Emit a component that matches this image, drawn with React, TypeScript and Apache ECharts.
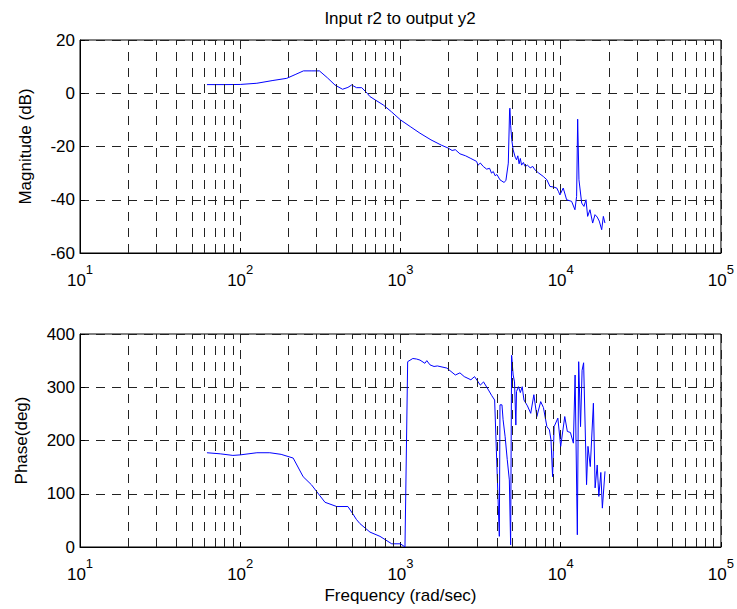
import React, { useEffect, useRef } from "react";
import * as echarts from "echarts";

// Magnitude response (rad/sec, dB)
const magFreq = [62, 80, 100, 127, 160, 195, 220, 248, 280, 312, 350, 390, 435, 470, 496, 532, 573, 620, 645, 700, 781, 880, 1000, 1150, 1324, 1550, 1800, 1987, 2100, 2200, 2350, 2550, 2750, 2986, 3050, 3150, 3287, 3450, 3600, 3700, 3795, 3900, 4000, 4178, 4300, 4428, 4550, 4710, 4800, 4823, 4870, 4950, 5050, 5200, 5300, 5400, 5500, 5600, 5700, 5850, 6000, 6200, 6450, 6700, 6902, 7300, 7786, 8200, 8570, 9000, 9450, 9700, 9890, 10370, 10890, 11700, 12270, 12570, 12760, 13000, 13520, 13970, 14380, 14730, 15230, 15830, 16370, 16900, 17400, 18020, 18460, 18890];
const magDb = [3.25, 3.25, 3.3, 3.75, 4.8, 5.6, 7.0, 8.4, 8.4, 8.4, 5.8, 3.1, 1.5, 2.2, 3.1, 2.1, 2.1, 0.0, -1.25, -2.6, -4.4, -7.0, -10, -12.5, -15, -17.5, -19.5, -20.6, -21.5, -21.2, -22.75, -23.5, -24.5, -25.6, -27, -26.2, -27.5, -28.5, -28.2, -30, -29.4, -31, -30.5, -32.5, -33, -33.5, -32.8, -26.25, -6, -5.6, -12, -17.5, -21.25, -24, -25, -23.5, -26.5, -24.5, -27, -26, -27.5, -27, -28, -27.5, -28.75, -30, -31.25, -32.5, -35, -35.2, -35.6, -37, -38.2, -35.6, -40, -40.6, -43.75, -38.75, -9.75, -32.5, -41.25, -42.5, -40, -46.25, -43.75, -48.75, -45.6, -46.5, -48, -51.25, -46.25, -48.75];

// Phase response (rad/sec, deg)
const phaseFreq = [62, 75, 90, 100, 127, 153, 180, 214, 247, 278, 338, 400, 470, 505, 530, 558, 645, 745, 882, 1000, 1067, 1109, 1194, 1260, 1324, 1420, 1460, 1529, 1620, 1700, 1948, 2200, 2350, 2500, 2750, 2900, 3150, 3300, 3540, 3700, 3870, 4140, 4180, 4300, 4370, 4500, 4640, 4780, 4870, 4940, 5050, 5150, 5250, 5300, 5450, 5600, 5750, 5900, 6200, 6500, 6800, 7100, 7500, 7800, 8200, 8500, 8700, 8900, 9100, 9600, 10000, 10600, 11000, 11500, 12000, 12300, 12700, 12950, 13300, 13600, 13900, 14500, 14800, 15300, 16000, 16400, 16900, 17300, 17800, 18200, 18900];
const phaseDeg = [177, 175, 172, 173, 177, 177, 174, 167, 132, 117, 84, 76, 76, 62, 52, 44, 28, 20, 6, 6, 0, 348, 354, 353, 351, 345, 350, 342, 339, 340, 336, 323, 327, 320, 314, 320, 304, 310, 295, 285, 276, 20, 267, 267, 239, 207, 164, 126, 4, 360, 323, 310, 229, 292, 301, 290, 301, 276, 265, 251, 286, 245, 273, 262, 226, 220, 201, 132, 226, 242, 189, 245, 217, 215, 195, 323, 23, 348, 226, 332, 346, 117, 189, 151, 270, 111, 154, 95, 140, 73, 142];

const title = "Input r2 to output y2";
const magLabel = "Magnitude (dB)";
const phaseLabel = "Phase(deg)";
const freqLabel = "Frequency (rad/sec)";

const FONT = "'Liberation Sans', Arial, sans-serif";
const DASH = [9, 7];

const minorGrid: number[] = [];
[10, 100, 1000, 10000].forEach((d) => {
  for (let k = 2; k <= 9; k++) minorGrid.push(d * k);
});

export default function App() {
  const ref = useRef<HTMLDivElement>(null);
  useEffect(() => {
    if (!ref.current) return;
    const chart = echarts.init(ref.current, undefined, { renderer: "svg" });
    const xAxisBase = (gi: number, withName: boolean) => ({
      type: "log" as const,
      gridIndex: gi,
      logBase: 10,
      min: 10,
      max: 100000,
      axisLine: { show: true, onZero: false, lineStyle: { color: "#000", width: 1 } },
      axisTick: { show: true, inside: true, length: 5, lineStyle: { color: "#000" } },
      splitLine: { show: true, lineStyle: { color: "#222", width: 1, type: DASH } },
      axisLabel: {
        margin: 10,
        color: "#000",
        formatter: (v: number) => `{b|10}{s|${Math.round(Math.log10(v))}}`,
        rich: {
          b: { fontSize: 17, fontFamily: FONT, color: "#000", verticalAlign: "bottom", lineHeight: 26 },
          s: { fontSize: 13, fontFamily: FONT, color: "#000", verticalAlign: "top", lineHeight: 14 },
        },
      },
      name: withName ? freqLabel : "",
      nameLocation: "middle" as const,
      nameGap: 40,
      nameTextStyle: { fontSize: 17, fontFamily: FONT, color: "#000" },
    });
    const yAxisBase = (gi: number, min: number, max: number, interval: number, name: string, gap: number) => ({
      type: "value" as const,
      gridIndex: gi,
      min,
      max,
      interval,
      axisLine: { show: true, onZero: false, lineStyle: { color: "#000", width: 1 } },
      axisTick: { show: true, inside: true, length: 5, lineStyle: { color: "#000" } },
      splitLine: { show: true, lineStyle: { color: "#222", width: 1, type: DASH } },
      axisLabel: { fontSize: 17, fontFamily: FONT, color: "#000", margin: 5 },
      name,
      nameLocation: "middle" as const,
      nameGap: gap,
      nameTextStyle: { fontSize: 17, fontFamily: FONT, color: "#000" },
    });
    const markLine = {
      silent: true,
      symbol: "none",
      label: { show: false },
      lineStyle: { color: "#222", width: 1, type: DASH },
      data: minorGrid.map((v) => ({ xAxis: v })),
    };
    chart.setOption({
      animation: false,
      backgroundColor: "#fff",
      graphic: [
        {
          type: "text",
          x: 400,
          y: 18,
          style: {
            text: title,
            fontSize: 17,
            fontFamily: FONT,
            fill: "#000",
            textAlign: "center",
            textVerticalAlign: "middle",
          },
        },
      ],
      grid: [
        { left: 80, top: 40, width: 641, height: 213, show: true, borderColor: "#000", borderWidth: 1, backgroundColor: "transparent" },
        { left: 80, top: 334, width: 641, height: 213, show: true, borderColor: "#000", borderWidth: 1, backgroundColor: "transparent" },
      ],
      xAxis: [xAxisBase(0, false), xAxisBase(1, true)],
      yAxis: [
        yAxisBase(0, -60, 20, 20, magLabel, 46),
        yAxisBase(1, 0, 400, 100, phaseLabel, 50),
      ],
      series: [
        {
          type: "line",
          xAxisIndex: 0,
          yAxisIndex: 0,
          data: magFreq.map((f, i) => [f, magDb[i]]),
          showSymbol: false,
          lineStyle: { color: "#0000ff", width: 1 },
          markLine,
        },
        {
          type: "line",
          xAxisIndex: 1,
          yAxisIndex: 1,
          data: phaseFreq.map((f, i) => [f, phaseDeg[i]]),
          showSymbol: false,
          lineStyle: { color: "#0000ff", width: 1 },
          markLine,
        },
      ],
    });
    return () => chart.dispose();
  }, []);
  return (
    <div
      ref={ref}
      style={{ position: "fixed", left: 0, top: 0, width: 737, height: 609, background: "#fff" }}
    />
  );
}
